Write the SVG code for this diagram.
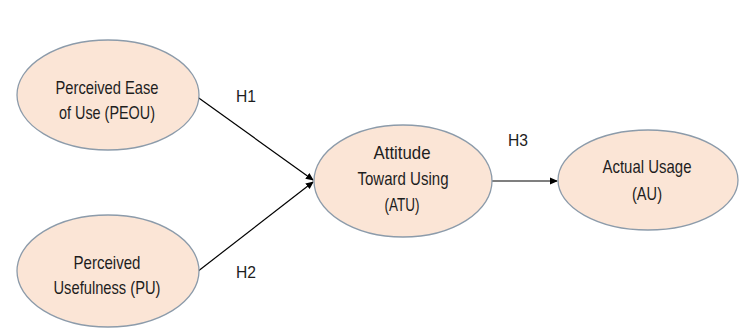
<svg xmlns="http://www.w3.org/2000/svg" width="744" height="329" viewBox="0 0 744 329">
<style>
.node ellipse{fill:#FBE5D6;stroke:#8C9BAA;stroke-width:1.3}
text{font-family:"Liberation Sans",Arial,sans-serif;font-size:19px;fill:#1e1e1e;text-anchor:middle}
.lbl{text-anchor:start;font-size:17px}
.conn line{stroke:#000;stroke-width:1.2}
</style>
<defs>
<marker id="ah" markerWidth="8" markerHeight="8" refX="7" refY="4" orient="auto" markerUnits="userSpaceOnUse">
<path d="M0,0.5 L8,4 L0,7.5 Z" fill="#000"/>
</marker>
</defs>
<rect width="744" height="329" fill="#fff"/>
<g class="conn">
<line x1="196" y1="96" x2="313" y2="180" marker-end="url(#ah)"/>
<line x1="197" y1="272" x2="313" y2="182" marker-end="url(#ah)"/>
<line x1="492" y1="181" x2="557" y2="181" marker-end="url(#ah)"/>
</g>
<g id="peou" class="node">
<ellipse cx="108" cy="95" rx="91" ry="55"/>
<text x="107" y="94" textLength="103" lengthAdjust="spacingAndGlyphs">Perceived Ease</text>
<text x="107" y="119" textLength="96" lengthAdjust="spacingAndGlyphs">of Use (PEOU)</text>
</g>
<g id="pu" class="node">
<ellipse cx="108" cy="271" rx="91" ry="56"/>
<text x="107" y="269" textLength="67" lengthAdjust="spacingAndGlyphs">Perceived</text>
<text x="107" y="294" textLength="107" lengthAdjust="spacingAndGlyphs">Usefulness (PU)</text>
</g>
<g id="atu" class="node">
<ellipse cx="403" cy="181" rx="89" ry="56"/>
<text x="402" y="159" textLength="57" lengthAdjust="spacingAndGlyphs">Attitude</text>
<text x="403" y="185" textLength="91" lengthAdjust="spacingAndGlyphs">Toward Using</text>
<text x="402" y="211" textLength="35" lengthAdjust="spacingAndGlyphs">(ATU)</text>
</g>
<g id="au" class="node">
<ellipse cx="648" cy="180" rx="90" ry="50"/>
<text x="647" y="173" textLength="89" lengthAdjust="spacingAndGlyphs">Actual Usage</text>
<text x="647" y="200" textLength="30" lengthAdjust="spacingAndGlyphs">(AU)</text>
</g>
<g id="labels">
<text class="lbl" x="236" y="102" textLength="20" lengthAdjust="spacingAndGlyphs">H1</text>
<text class="lbl" x="236" y="278" textLength="20" lengthAdjust="spacingAndGlyphs">H2</text>
<text class="lbl" x="508" y="146" textLength="20" lengthAdjust="spacingAndGlyphs">H3</text>
</g>
</svg>
